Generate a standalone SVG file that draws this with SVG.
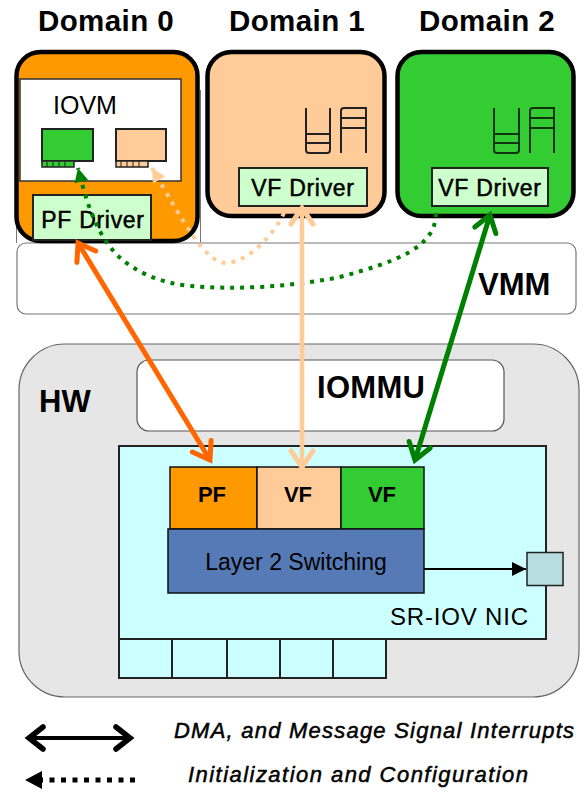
<svg xmlns="http://www.w3.org/2000/svg" width="587" height="798" viewBox="0 0 587 798">
<style>
text{font-family:"Liberation Sans",Arial,sans-serif;fill:#000}
.title{font-size:29.500px;font-weight:bold;letter-spacing:.4px}
.dom{stroke:#000;stroke-width:4.5}
.drv{fill:#ccffcc;stroke:#222;stroke-width:2}
.drvt{font-size:23px;letter-spacing:.7px;text-anchor:middle;stroke:#000;stroke-width:.5px}
.cell{stroke:#111;stroke-width:1.5}
.nicc{fill:#ccffff;stroke:#222;stroke-width:2}
.big{font-size:31px;font-weight:bold}
.ic{fill:none;stroke-width:2}
.lg{font-size:22px;font-style:italic;stroke:#000;stroke-width:.5px}
.pft{font-size:22px;font-weight:bold;text-anchor:middle}
.conn{fill:none}
</style>
<defs>
<marker id="oOr" markerUnits="userSpaceOnUse" markerWidth="30" markerHeight="30" refX="24" refY="15" orient="auto-start-reverse" viewBox="0 0 30 30"><path d="M8 4L24 15L8 26" fill="none" stroke="#ff6600" stroke-width="5" stroke-linecap="round"/></marker>
<marker id="oPe" markerUnits="userSpaceOnUse" markerWidth="30" markerHeight="30" refX="24" refY="15" orient="auto-start-reverse" viewBox="0 0 30 30"><path d="M8 4L24 15L8 26" fill="none" stroke="#ffcc99" stroke-width="5" stroke-linecap="round"/></marker>
<marker id="oGr" markerUnits="userSpaceOnUse" markerWidth="30" markerHeight="30" refX="24" refY="15" orient="auto-start-reverse" viewBox="0 0 30 30"><path d="M8 4L24 15L8 26" fill="none" stroke="#008000" stroke-width="5" stroke-linecap="round"/></marker>
<marker id="oBk" markerUnits="userSpaceOnUse" markerWidth="30" markerHeight="30" refX="24" refY="15" orient="auto-start-reverse" viewBox="0 0 30 30"><path d="M10 4L24 15L10 26" fill="none" stroke="#000" stroke-width="5.500" stroke-linecap="round"/></marker>
<marker id="tGr" markerUnits="userSpaceOnUse" markerWidth="18" markerHeight="18" refX="15" refY="9" orient="auto" viewBox="0 0 18 18"><path d="M1 2L15 9L1 16Z" fill="#008000"/></marker>
<marker id="tPe" markerUnits="userSpaceOnUse" markerWidth="18" markerHeight="18" refX="15" refY="9" orient="auto" viewBox="0 0 18 18"><path d="M1 2L15 9L1 16Z" fill="#ffcc99"/></marker>
<marker id="tBk" markerUnits="userSpaceOnUse" markerWidth="18" markerHeight="18" refX="15" refY="9" orient="auto" viewBox="0 0 18 18"><path d="M1 2L15 9L1 16Z" fill="#000"/></marker>
</defs>

<g id="titles">
<text class="title" x="38" y="31">Domain 0</text>
<text class="title" x="229" y="31">Domain 1</text>
<text class="title" x="419" y="31">Domain 2</text>
</g>

<g id="dom0back"><path d="M16.500 243V90M200.500 243V90" fill="none" stroke="#777" stroke-width="1"/></g>

<g id="vmm">
<rect x="17" y="243" width="559" height="71" rx="9" fill="#fff" stroke="#777" stroke-width="1.2"/>
<text class="big" x="478" y="295">VMM</text>
</g>

<g id="domain0">
<rect class="dom" x="16.500" y="52" width="181" height="189" rx="24" fill="#ff9900"/>
<rect x="20" y="79" width="161" height="102" fill="#fff" stroke="#333" stroke-width="1.5"/>
<text x="53" y="114" font-size="25">IOVM</text>
<rect x="42" y="129" width="51" height="32" fill="#33cc33" stroke="#222" stroke-width="2"/>
<rect x="42" y="161" width="32" height="6" fill="#33cc33" stroke="#222" stroke-width="1.500"/>
<path d="M47 161v6M53 161v6M59 161v6M65 161v6" stroke="#222" stroke-width="1"/>
<rect x="116" y="129" width="50" height="32" fill="#ffcc99" stroke="#222" stroke-width="2"/>
<rect x="116" y="161" width="32" height="6" fill="#ffcc99" stroke="#222" stroke-width="1.500"/>
<path d="M121 161v6M127 161v6M133 161v6M139 161v6" stroke="#222" stroke-width="1"/>
<rect class="drv" x="33" y="195" width="118" height="45"/>
<text class="drvt" x="93" y="228">PF Driver</text>
</g>

<g id="domain1">
<rect class="dom" x="207.500" y="52" width="177" height="164" rx="24" fill="#ffcc99"/>
<path class="ic" stroke="#222" d="M306 108V150Q306 153 309 153H327Q330 153 330 150V108M306 134H330M306 143H330M341 153V111Q341 108 344 108H366V153M341 118H366M341 128H366"/>
<rect class="drv" x="239" y="168" width="128" height="38"/>
<text class="drvt" x="303" y="196">VF Driver</text>
</g>

<g id="domain2">
<rect class="dom" x="397.500" y="52" width="176" height="164" rx="24" fill="#33cc33"/>
<path class="ic" stroke="#113311" d="M494 108V150Q494 153 497 153H516Q519 153 519 150V108M494 134H519M494 143H519M530 153V111Q530 108 533 108H554V153M530 118H554M530 128H554"/>
<rect class="drv" x="432" y="168" width="116" height="38"/>
<text class="drvt" x="490" y="196">VF Driver</text>
</g>

<g id="hw">
<rect x="19" y="344" width="560" height="353" rx="46" fill="#e6e6e6" stroke="#666" stroke-width="1.2"/>
<text class="big" x="39" y="412">HW</text>
</g>

<g id="iommu">
<rect x="137" y="360" width="367" height="71" rx="12" fill="#fff" stroke="#555" stroke-width="1.200"/>
<text class="big" x="317" y="398" textLength="108">IOMMU</text>
</g>

<g id="nic">
<rect x="119" y="446" width="427" height="193" fill="#ccffff" stroke="#222" stroke-width="2"/>
<text x="390" y="625" font-size="24" textLength="138" fill="#222">SR-IOV NIC</text>
<rect class="nicc" x="119" y="639" width="53" height="39"/>
<rect class="nicc" x="172" y="639" width="55" height="39"/>
<rect class="nicc" x="227" y="639" width="53" height="39"/>
<rect class="nicc" x="280" y="639" width="53" height="39"/>
<rect class="nicc" x="333" y="639" width="53" height="39"/>
</g>

<g id="pf"><rect class="cell" x="170" y="467" width="87" height="62" fill="#ff9900"/><text class="pft" x="212" y="502">PF</text></g>
<g id="vf1"><rect class="cell" x="257" y="467" width="84" height="62" fill="#ffcc99"/><text class="pft" x="298" y="502">VF</text></g>
<g id="vf2"><rect class="cell" x="341" y="467" width="83" height="62" fill="#33cc33"/><text class="pft" x="382" y="502">VF</text></g>
<g id="switch"><rect class="cell" x="168" y="529" width="256" height="64" fill="#557ab5"/><text x="296" y="570" font-size="23" text-anchor="middle" fill="#0b1a33">Layer 2 Switching</text></g>
<g id="port"><rect x="527" y="552.500" width="36" height="33" fill="#b7dde0" stroke="#222" stroke-width="1.500"/></g>

<g id="connectors" class="conn">
<path d="M424 569H526" stroke="#000" stroke-width="1.800" marker-end="url(#tBk)"/>
<path d="M436 213C436 248 395 262 340 277C290 287 235 290 190 286C160 283 135 272 117 255C95 232 86 200 78 168" stroke="#008000" stroke-width="4" stroke-dasharray="4 6" marker-end="url(#tGr)"/>
<path d="M284 213C275 232 250 262 226 263C205 262 185 225 152 168" stroke="#ffcc99" stroke-width="4" stroke-dasharray="4 6" marker-end="url(#tPe)"/>
<path d="M78 243L210 460" stroke="#ff6600" stroke-width="5" marker-start="url(#oOr)" marker-end="url(#oOr)"/>
<path d="M302 208V467" stroke="#ffcc99" stroke-width="4.500" marker-start="url(#oPe)" marker-end="url(#oPe)"/>
<path d="M490 215L415 460" stroke="#008000" stroke-width="5" marker-start="url(#oGr)" marker-end="url(#oGr)"/>
</g>

<g id="legend">
<path d="M29 738H130" fill="none" stroke="#000" stroke-width="4" marker-start="url(#oBk)" marker-end="url(#oBk)"/>
<path d="M135 780H42" fill="none" stroke="#000" stroke-width="5" stroke-dasharray="5 6.500"/>
<path d="M25 780L42 771V789Z" fill="#000"/>
<text class="lg" x="174" y="738" textLength="400">DMA, and Message Signal Interrupts</text>
<text class="lg" x="188" y="782" textLength="340">Initialization and Configuration</text>
</g>
</svg>
